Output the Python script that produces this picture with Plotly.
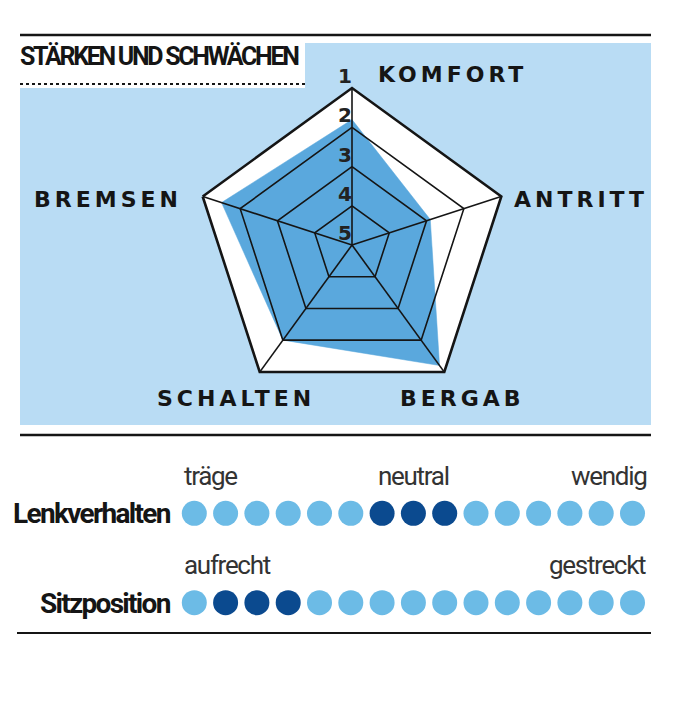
import plotly.graph_objects as go

# Stärken und Schwächen: Note 1 (außen) bis 5 (Mitte)
kategorien = ["KOMFORT", "ANTRITT", "BERGAB", "SCHALTEN", "BREMSEN"]
noten = [1.8, 2.9, 1.2, 2.0, 1.5]
skala = [1, 2, 3, 4, 5]

# Punkteskalen unten
punkte = list(range(1, 16))
zeilen = ["Lenkverhalten", "Sitzposition"]
lenk_aktiv = [7, 8, 9]
sitz_aktiv = [2, 3, 4]
lenk_pole = ["träge", "neutral", "wendig"]
sitz_pole = ["aufrecht", "gestreckt"]

W, H = 683, 720
RAND = 8  # Seitenrand des Browsers
SCHWARZ = "#151515"
PANEL = "#b9dcf4"
BLAU = "#5aa8dd"
HELL = "#6cbbe6"
DUNKEL = "#0b4a8f"
SCHMAL = "Roboto, sans-serif"
FETT = "DejaVu Sans, sans-serif"


def px(x):
    return (x - RAND) / W


def py(y):
    return 1 - (y - RAND) / H


def eng(text, abstand):
    # schmal gesetzte Schrift über negativen Buchstabenabstand
    return f'<span style="letter-spacing:{abstand}px">{text}</span>'


fig = go.Figure()

# blaue Fläche
fig.add_trace(go.Scatterpolar(
    r=noten + [noten[0]], theta=kategorien + [kategorien[0]],
    mode="lines", fill="toself", fillcolor=BLAU,
    line=dict(color=BLAU, width=0.5), hoverinfo="skip",
))

# Ringe 2-4 und Speichen über der Fläche
ring_theta = kategorien + [kategorien[0]]
for s in skala[1:-1]:
    fig.add_trace(go.Scatterpolar(
        r=[s] * len(ring_theta), theta=ring_theta, mode="lines",
        line=dict(color=SCHWARZ, width=1.6), hoverinfo="skip",
    ))
for k in kategorien:
    fig.add_trace(go.Scatterpolar(
        r=[skala[-1], skala[0]], theta=[k, k], mode="lines",
        line=dict(color=SCHWARZ, width=1.6), hoverinfo="skip",
    ))

# Skalenziffern an der Komfort-Achse
fig.add_trace(go.Scatterpolar(
    r=skala, theta=[kategorien[0]] * len(skala), mode="text",
    text=[str(s) for s in skala], textposition="top left",
    textfont=dict(family=FETT, size=20, color="#222222", weight="bold"),
    cliponaxis=False, hoverinfo="skip",
))

# Punktreihen
for zeile, aktiv in [(zeilen[0], lenk_aktiv), (zeilen[1], sitz_aktiv)]:
    fig.add_trace(go.Scatter(
        x=punkte, y=[zeile] * len(punkte), mode="markers",
        marker=dict(size=25, color=[DUNKEL if p in aktiv else HELL for p in punkte],
                    line=dict(width=0)),
        hoverinfo="skip",
    ))

annotations = []

# Achsenbeschriftungen Radar
label_font = dict(family=FETT, size=22, color=SCHWARZ, weight="bold")
label_pos = {
    "KOMFORT": (376, 74, "left"),
    "ANTRITT": (512, 200, "left"),
    "BERGAB": (462, 399, "center"),
    "SCHALTEN": (236, 399, "center"),
    "BREMSEN": (184, 200, "right"),
}
for k in kategorien:
    x, y, anchor = label_pos[k]
    annotations.append(dict(
        x=px(x), y=py(y), xref="paper", yref="paper", xanchor=anchor, yanchor="middle",
        text=eng(k, 4), showarrow=False, font=label_font,
    ))

# Titel
annotations.append(dict(
    x=px(18), y=py(57), xref="paper", yref="paper", xanchor="left", yanchor="middle",
    text=eng("STÄRKEN UND SCHWÄCHEN", -2.3), showarrow=False,
    font=dict(family=SCHMAL, size=25, color=SCHWARZ, weight="bold"),
))

# Pole der Punktskalen
pol_font = dict(family=SCHMAL, size=26, color="#333333", weight=400)
for text, x, anchor in zip(lenk_pole, [0.62, 8, 15.5], ["left", "center", "right"]):
    annotations.append(dict(x=x, y=-0.42, xref="x", yref="y", xanchor=anchor, yanchor="middle",
                            text=eng(text, -1.3), showarrow=False, font=pol_font))
for text, x, anchor in zip(sitz_pole, [0.62, 15.5], ["left", "right"]):
    annotations.append(dict(x=x, y=0.58, xref="x", yref="y", xanchor=anchor, yanchor="middle",
                            text=eng(text, -1.3), showarrow=False, font=pol_font))

shapes = [
    # hellblaues Feld
    dict(type="rect", xref="paper", yref="paper", x0=px(20), x1=px(651), y0=py(425), y1=py(43),
         fillcolor=PANEL, line=dict(width=0), layer="below"),
    # weißer Titelkasten
    dict(type="rect", xref="paper", yref="paper", x0=px(20), x1=px(305), y0=py(88), y1=py(40),
         fillcolor="white", line=dict(width=0), layer="below"),
    # gepunktete Linie unter dem Titel
    dict(type="line", xref="paper", yref="paper", x0=px(20), x1=px(305), y0=py(84), y1=py(84),
         line=dict(color=SCHWARZ, width=2, dash="dot")),
    # schwarze Linien
    dict(type="line", xref="paper", yref="paper", x0=px(20), x1=px(651), y0=py(35), y1=py(35),
         line=dict(color=SCHWARZ, width=2.5)),
    dict(type="line", xref="paper", yref="paper", x0=px(20), x1=px(651), y0=py(435), y1=py(435),
         line=dict(color=SCHWARZ, width=2.5)),
    dict(type="line", xref="paper", yref="paper", x0=px(17), x1=px(651), y0=py(633), y1=py(633),
         line=dict(color=SCHWARZ, width=2)),
]

fig.update_layout(
    width=W, height=H,
    margin=dict(l=0, r=0, t=0, b=0, autoexpand=False),
    paper_bgcolor="white", plot_bgcolor="rgba(0,0,0,0)",
    showlegend=False, hovermode=False,
    polar=dict(
        domain=dict(x=[px(195), px(509)], y=[py(402), py(88)]),
        bgcolor="white",
        gridshape="linear",
        radialaxis=dict(range=[5, 0.995], showline=False, showgrid=False,
                        showticklabels=False, ticks=""),
        angularaxis=dict(direction="clockwise", rotation=90, showline=True,
                         linecolor=SCHWARZ, linewidth=2.6, showgrid=False,
                         showticklabels=False, ticks="", layer="above traces"),
    ),
    xaxis=dict(domain=[px(178.65), px(648.15)], range=[0.5, 15.5], visible=False),
    yaxis=dict(domain=[py(647.4), py(468.6)], range=[1.5, -0.5], type="category",
               categoryorder="array", categoryarray=zeilen,
               tickmode="array", tickvals=zeilen, ticktext=[eng(z, -1.7) for z in zeilen],
               showgrid=False, zeroline=False, showline=False, ticks="",
               ticklabelstandoff=8, automargin=False,
               tickfont=dict(family=SCHMAL, size=28, color=SCHWARZ, weight="bold")),
    annotations=annotations,
    shapes=shapes,
)

fig.write_html("out.html")
